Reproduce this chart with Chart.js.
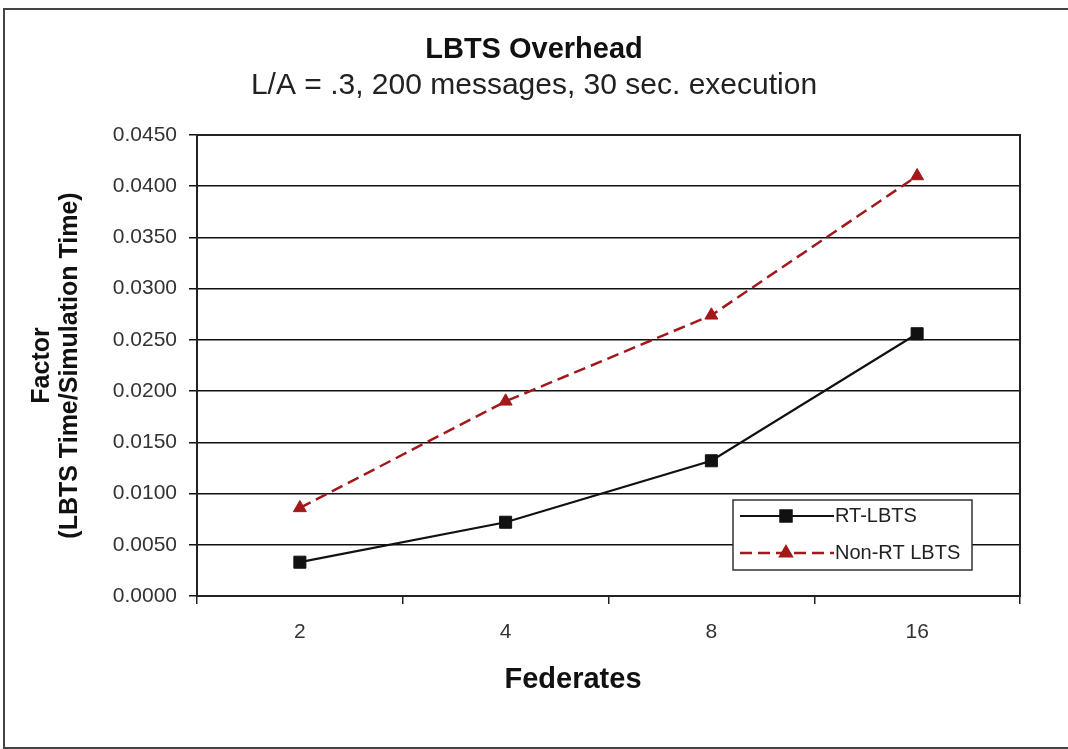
<!DOCTYPE html>
<html><head><meta charset="utf-8">
<script src="https://cdn.jsdelivr.net/npm/chart.js@4.4.1/dist/chart.umd.min.js"></script>
<style>
html,body{margin:0;padding:0;background:#fff;}
#wrap{position:relative;width:1068px;height:749px;overflow:hidden;}
#frame{position:absolute;left:3px;top:8px;width:1080px;height:737px;border:2px solid #444;}
canvas{position:absolute;left:0;top:0;}
</style></head><body>
<div id="wrap"><div id="frame"></div><canvas id="c" width="1068" height="749"></canvas></div>
<script>
const categories = ['2', '4', '8', '16'];
const rtLbts = [0.0033, 0.0072, 0.0132, 0.0256];
const nonRtLbts = [0.0086, 0.0190, 0.0274, 0.0410];
const seriesNames = ['RT-LBTS', 'Non-RT LBTS'];
const chartTitle = 'LBTS Overhead';
const chartSubtitle = 'L/A = .3, 200 messages, 30 sec. execution';
const xTitle = 'Federates';
const yTitle = ['Factor', '(LBTS Time/Simulation Time)'];

const FONT = "'Liberation Sans', Arial, sans-serif";

const framePlugin = {
  id: 'frame',
  beforeDatasetsDraw(chart) {
    const {ctx, chartArea: a} = chart;
    ctx.save();
    ctx.strokeStyle = '#222';
    ctx.lineWidth = 2;
    ctx.beginPath();
    ctx.moveTo(a.left, a.top);
    ctx.lineTo(a.right, a.top);
    ctx.stroke();
    ctx.restore();
  }
};

const legendPlugin = {
  id: 'boxLegend',
  afterDatasetsDraw(chart) {
    const {ctx} = chart;
    const bx = 733, by = 500, bw = 239, bh = 70;
    ctx.save();
    ctx.fillStyle = '#fff';
    ctx.fillRect(bx, by, bw, bh);
    ctx.strokeStyle = '#333';
    ctx.lineWidth = 1.5;
    ctx.strokeRect(bx, by, bw, bh);
    chart.data.datasets.forEach((ds, i) => {
      const y = 516 + i * 37;
      ctx.save();
      ctx.strokeStyle = ds.borderColor;
      ctx.lineWidth = ds.borderWidth;
      ctx.setLineDash(ds.borderDash || []);
      ctx.beginPath();
      ctx.moveTo(740, y);
      ctx.lineTo(834, y);
      ctx.stroke();
      ctx.restore();
      ctx.save();
      ctx.fillStyle = ds.backgroundColor;
      ctx.strokeStyle = ds.borderColor;
      ctx.setLineDash([]);
      Chart.helpers.drawPoint(ctx, {pointStyle: ds.pointStyle, radius: ds.pointRadius, borderWidth: 1, rotation: 0}, 786, y);
      ctx.restore();
      ctx.fillStyle = '#222';
      ctx.font = '20px ' + FONT;
      ctx.textAlign = 'left';
      ctx.textBaseline = 'middle';
      ctx.fillText(ds.label, 835, y);
    });
    ctx.restore();
  },
  afterDraw(chart) {
    const {ctx} = chart;
    ctx.save();
    ctx.fillStyle = '#111';
    ctx.font = 'bold 29px ' + FONT;
    ctx.textAlign = 'center';
    ctx.textBaseline = 'middle';
    ctx.fillText(xTitle, 573, 680);
    ctx.restore();
  }
};

new Chart(document.getElementById('c'), {
  type: 'line',
  data: {
    labels: categories,
    datasets: [
      {
        label: seriesNames[0], data: rtLbts,
        borderColor: '#111', backgroundColor: '#111', borderWidth: 2.2,
        pointStyle: 'rect', pointRadius: 8.5, pointBorderWidth: 1, tension: 0
      },
      {
        label: seriesNames[1], data: nonRtLbts,
        borderColor: '#a3191b', backgroundColor: '#a3191b', borderWidth: 2.5, borderDash: [12, 6],
        pointStyle: 'triangle', pointRadius: 7.5, pointBorderWidth: 1, tension: 0
      }
    ]
  },
  options: {
    responsive: false,
    animation: false,
    layout: {padding: {left: 0, right: 0, top: 0, bottom: 87.8}},
    plugins: {
      legend: {display: false},
      tooltip: {enabled: false},
      title: {
        display: true, text: chartTitle, color: '#111',
        font: {family: FONT, size: 29, weight: 'bold'},
        padding: {top: 33, bottom: 0}
      },
      subtitle: {
        display: true, text: chartSubtitle, color: '#222',
        font: {family: FONT, size: 30, weight: 'normal'},
        padding: {top: 0, bottom: 31.2}
      }
    },
    scales: {
      x: {
        type: 'category', offset: true,
        grid: {offset: true, drawOnChartArea: false, drawTicks: true, tickLength: 8, color: '#222', lineWidth: 1.5},
        border: {display: true, color: '#222', width: 2},
        ticks: {color: '#333', font: {family: FONT, size: 21}, padding: 16}
      },
      y: {
        min: 0, max: 0.045,
        afterFit(s) { s.width = 197; },
        grid: {color: '#111', lineWidth: 1.5, tickLength: 8, drawTicks: true},
        border: {display: true, color: '#222', width: 2},
        ticks: {
          stepSize: 0.005, color: '#333', padding: 12,
          font: {family: FONT, size: 21},
          callback: v => Number(v).toFixed(4)
        },
        title: {
          display: true, text: yTitle, color: '#111',
          font: {family: FONT, size: 25, weight: 'bold', lineHeight: 1.12},
          padding: {top: 28, bottom: 0}
        }
      },
      yRight: {
        position: 'right', min: 0, max: 0.045,
        afterFit(s) { s.width = 48; },
        grid: {drawOnChartArea: false, drawTicks: false},
        border: {display: true, color: '#222', width: 2},
        ticks: {display: false}
      }
    }
  },
  plugins: [framePlugin, legendPlugin]
});
</script>
</body></html>
